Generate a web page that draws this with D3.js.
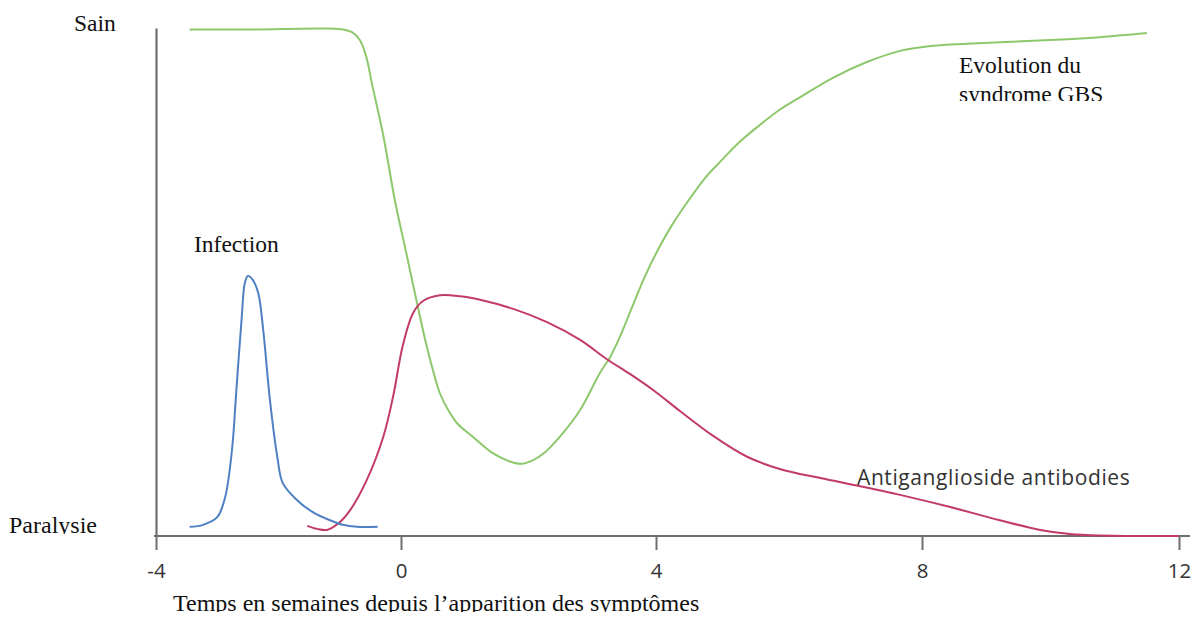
<!DOCTYPE html>
<html><head><meta charset="utf-8">
<script src="https://cdn.jsdelivr.net/npm/d3@7"></script>
<style>html,body{margin:0;padding:0;background:#fff;overflow:hidden}</style>
</head><body>
<svg id="chart" width="1197" height="617"></svg>
<script>
// ---- data ----
const xTicks = [-4, 0, 4, 8, 12];
const xTitle = "Temps en semaines depuis l’apparition des symptômes";
const yLabelTop = "Sain";
const yLabelBottom = "Paralysie";

// GBS evolution (100 = Sain, 0 = Paralysie)
const gbsWeeks = [-3.45,-2.47,-1.32,-1.00,-0.80,-0.67,-0.57,-0.47,-0.29,-0.10,0.09,0.25,0.38,0.50,0.61,0.74,0.88,1.13,1.44,1.68,1.87,2.05,2.26,2.49,2.81,3.12,3.28,3.44,3.64,3.83,4.02,4.24,4.47,4.74,4.96,5.26,5.56,5.86,6.17,6.66,7.17,7.67,8.17,8.70,9.21,10.26,10.77,11.50];
const gbsLevel = [99.7,99.7,99.9,99.8,99.2,97.6,94.5,88.8,78.9,66.1,55.3,45.9,38.6,32.7,28.1,24.8,22.2,19.5,16.3,14.8,14.2,14.8,16.5,19.5,24.8,32.1,35.2,39.4,45.5,51.2,56.1,61.2,65.7,70.5,73.6,77.6,80.9,83.9,86.4,90.2,93.3,95.5,96.5,96.9,97.2,97.8,98.2,99.0];

// Antiganglioside antibodies
const abWeeks = [-1.53,-1.37,-1.21,-1.03,-0.83,-0.56,-0.29,-0.13,0.03,0.19,0.35,0.61,0.93,1.24,1.76,2.29,2.81,3.23,3.59,3.98,4.36,4.86,5.37,5.86,6.47,7.07,7.67,8.44,9.21,9.84,10.30,10.77,12.0];
const abLevel = [2.0,1.4,1.2,2.4,5.1,11.0,19.5,27.4,37.6,43.9,46.3,47.4,47.2,46.5,44.7,42.1,38.6,34.8,31.9,28.5,24.6,19.7,15.6,13.2,11.4,9.8,8.1,5.7,3.1,1.2,0.4,0.1,0];

// Infection
const infWeeks = [-3.45,-3.23,-3.00,-2.87,-2.76,-2.68,-2.60,-2.55,-2.50,-2.42,-2.33,-2.25,-2.14,-2.02,-1.93,-1.70,-1.44,-1.16,-0.95,-0.72,-0.38];
const infLevel = [1.8,2.2,3.7,7.7,16.9,30.1,43.1,49.8,51.2,50.4,47.8,40.6,26.8,15.6,10.4,7.1,4.7,3.1,2.2,1.8,1.8];

const labelGBS = ["Evolution du", "syndrome GBS"];
const labelInf = "Infection";
const labelAb = "Antiganglioside antibodies";

// ---- chart ----
const svg = d3.select("#chart");
svg.append("rect").attr("width",1197).attr("height",617).attr("fill","#fff");

const x = d3.scaleLinear().domain(xTicks).range([156, 401, 656, 922, 1179]);
const y = d3.scaleLinear().domain([0, 100]).range([536, 28]);

const defs = svg.append("defs");
function clip(id, x0, y0, w, h){
  defs.append("clipPath").attr("id", id).append("rect").attr("x",x0).attr("y",y0).attr("width",w).attr("height",h);
}
clip("clipGBS", 900, 40, 250, 61);
clip("clipPar", 0, 500, 140, 34);
clip("clipTitle", 100, 580, 700, 32);

// axes
const axisColor = "#6e6e6e";
const xAxis = svg.append("g").attr("transform", `translate(0,${y(0)})`)
  .call(d3.axisBottom(x).tickValues(xTicks).tickFormat(d => String(d)).tickSize(14).tickPadding(13).tickSizeOuter(0));
xAxis.select(".domain").remove();
xAxis.selectAll(".tick line").attr("stroke", axisColor).attr("stroke-width", 2);
xAxis.selectAll(".tick text").attr("fill", "#333").attr("font-family", "'Open Sans', sans-serif").attr("font-size", 20.5);
svg.append("line").attr("x1", x(-4) - 2).attr("x2", x(12) + 11).attr("y1", y(0)).attr("y2", y(0))
  .attr("stroke", axisColor).attr("stroke-width", 2.2);

const yAxis = svg.append("g").attr("transform", `translate(${x(-4)},0)`)
  .call(d3.axisLeft(y).tickValues([]).tickSizeOuter(0));
yAxis.select(".domain").attr("stroke", axisColor).attr("stroke-width", 2.2);

// curves
const line = d3.line().x(d => x(d[0])).y(d => y(d[1])).curve(d3.curveCatmullRom.alpha(0.5));
const series = [
  {w: gbsWeeks, v: gbsLevel, color: "#8dc86c"},
  {w: abWeeks, v: abLevel, color: "#c23a68"},
  {w: infWeeks, v: infLevel, color: "#4f80c2"}
];
series.forEach(s => {
  svg.append("path").datum(d3.zip(s.w, s.v)).attr("d", line)
    .attr("fill", "none").attr("stroke", s.color).attr("stroke-width", 2).attr("stroke-linejoin","round");
});

// texts
const serif = "'Liberation Serif', 'Times New Roman', serif";
svg.append("text").attr("x", 74).attr("y", y(100) + 3).text(yLabelTop)
  .attr("font-family", serif).attr("font-size", 23.5).attr("fill", "#111");
svg.append("g").attr("clip-path", "url(#clipPar)").append("text").attr("x", 9).attr("y", y(0) - 3).text(yLabelBottom)
  .attr("font-family", serif).attr("font-size", 24).attr("fill", "#111");
svg.append("text").attr("x", 194).attr("y", 252).text(labelInf)
  .attr("font-family", serif).attr("font-size", 23.5).attr("fill", "#111");
const g2 = svg.append("g").attr("clip-path", "url(#clipGBS)");
labelGBS.forEach((t, i) => g2.append("text").attr("x", 959).attr("y", 73 + i * 29).text(t)
  .attr("font-family", serif).attr("font-size", 23.5).attr("fill", "#111"));
svg.append("g").attr("clip-path", "url(#clipTitle)").append("text").attr("x", 173).attr("y", 611).text(xTitle)
  .attr("font-family", serif).attr("font-size", 24).attr("fill", "#111");
svg.append("text").attr("x", 857).attr("y", 485).text(labelAb)
  .attr("font-family", "'Open Sans', sans-serif").attr("font-size", 21).attr("letter-spacing", 0.6).attr("fill", "#333");
</script>
</body></html>
